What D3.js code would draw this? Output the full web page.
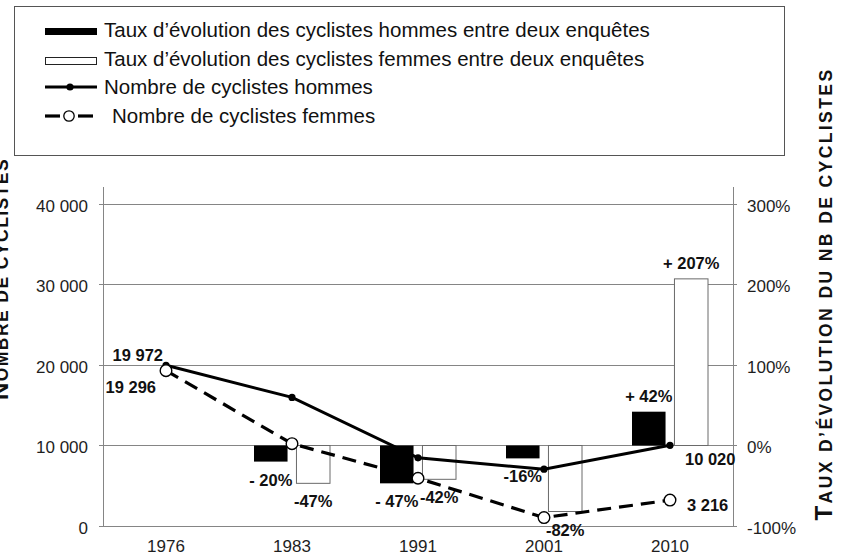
<!DOCTYPE html>
<html>
<head>
<meta charset="utf-8">
<script src="https://cdn.jsdelivr.net/npm/d3@7"></script>
<style>
  body { margin: 0; background: #fff; }
  svg { display: block; }
</style>
</head>
<body>
<svg id="chart" width="852" height="558"></svg>
<script>
// ---- data ----
const years = ["1976", "1983", "1991", "2001", "2010"];
const menCount = [19972, 15978, 8468, 7056, 10020];
const womenCount = [19296, 10227, 5932, 1048, 3216];
const menRate = [null, -20, -47, -16, 42];
const womenRate = [null, -47, -42, -82, 207];
const menRateLabels = ["", "- 20%", "- 47%", "-16%", "+ 42%"];
const womenRateLabels = ["", "-47%", "-42%", "-82%", "+ 207%"];
const menCountLabels = ["19 972", "", "", "", "10 020"];
const womenCountLabels = ["19 296", "", "", "", "3 216"];
const countTicks = [0, 10000, 20000, 30000, 40000];
const countTickLabels = ["0", "10 000", "20 000", "30 000", "40 000"];
const rateTicks = [-100, 0, 100, 200, 300];
const rateTickLabels = ["-100%", "0%", "100%", "200%", "300%"];
const legendLabels = [
  "Taux d\u2019évolution des cyclistes hommes entre deux enquêtes",
  "Taux d\u2019évolution des cyclistes femmes entre deux enquêtes",
  "Nombre de cyclistes hommes",
  "Nombre de cyclistes femmes"
];
const leftTitle = "Nombre de cyclistes";
const rightTitle = "Taux d\u2019évolution du nb de cyclistes";

// ---- layout ----
const FONT = "'Liberation Sans', Arial, Helvetica, sans-serif";
const plot = { left: 103, right: 733, top: 204, bottom: 526, axisTop: 187 };
const GRID = "#858585";
const TICK_SIZE = 17;

const svg = d3.select("#chart").style("font-family", FONT);

const x = d3.scaleBand().domain(years).range([plot.left, plot.right]).padding(0);
const sub = d3.scaleBand().domain(["m", "f"]).range([-38, 38]).paddingInner(0.21);
const yCount = d3.scaleLinear().domain([0, 40000]).range([plot.bottom, plot.top]);
const yRate = d3.scaleLinear().domain([-100, 300]).range([plot.bottom, plot.top]);
const cx = d => x(d) + x.bandwidth() / 2;

// gridlines (include tick stubs outside both axes)
svg.append("g").selectAll("line").data(countTicks).join("line")
  .attr("x1", plot.left - 4).attr("x2", plot.right + 4)
  .attr("y1", d => yCount(d)).attr("y2", d => yCount(d))
  .attr("stroke", GRID).attr("stroke-width", 1).attr("shape-rendering", "crispEdges");

// left axis
const leftAxis = d3.axisLeft(yCount).tickValues(countTicks)
  .tickFormat((d, i) => countTickLabels[i]).tickSize(0).tickPadding(15);
const gl = svg.append("g").attr("transform", `translate(${plot.left},0)`).call(leftAxis);
gl.select(".domain").remove();
gl.selectAll("text").attr("font-size", TICK_SIZE).attr("font-family", FONT).attr("fill", "#1e1e1e").attr("dy", "0.42em");
svg.append("line").attr("x1", plot.left).attr("x2", plot.left)
  .attr("y1", plot.axisTop).attr("y2", plot.bottom)
  .attr("stroke", GRID).attr("shape-rendering", "crispEdges");

// right axis
const rightAxis = d3.axisRight(yRate).tickValues(rateTicks)
  .tickFormat((d, i) => rateTickLabels[i]).tickSize(0).tickPadding(14);
const gr = svg.append("g").attr("transform", `translate(${plot.right},0)`).call(rightAxis);
gr.select(".domain").remove();
gr.selectAll("text").attr("font-size", TICK_SIZE).attr("font-family", FONT).attr("fill", "#1e1e1e").attr("dy", "0.42em");
svg.append("line").attr("x1", plot.right).attr("x2", plot.right)
  .attr("y1", plot.axisTop).attr("y2", plot.bottom)
  .attr("stroke", GRID).attr("shape-rendering", "crispEdges");

// x axis labels
const bottomAxis = d3.axisBottom(x).tickSize(0).tickPadding(14);
const gb = svg.append("g").attr("transform", `translate(0,${plot.bottom})`).call(bottomAxis);
gb.select(".domain").remove();
gb.selectAll("text").attr("font-size", TICK_SIZE).attr("font-family", FONT).attr("fill", "#1e1e1e");

// ---- rate bars ----
const rateRows = years.map((yr, i) => ({ yr, i, men: menRate[i], women: womenRate[i] })).filter(r => r.men !== null);
const zero = yRate(0);

const barG = svg.append("g");
barG.selectAll("rect.men").data(rateRows).join("rect").attr("class", "men")
  .attr("x", d => cx(d.yr) + sub("m")).attr("width", sub.bandwidth())
  .attr("y", d => Math.min(yRate(d.men), zero)).attr("height", d => Math.abs(yRate(d.men) - zero))
  .attr("fill", "#000");
barG.selectAll("rect.women").data(rateRows).join("rect").attr("class", "women")
  .attr("x", d => cx(d.yr) + sub("f")).attr("width", sub.bandwidth())
  .attr("y", d => Math.min(yRate(d.women), zero)).attr("height", d => Math.abs(yRate(d.women) - zero))
  .attr("fill", "#fff").attr("stroke", "#6a6a6a").attr("stroke-width", 1);

// ---- count lines ----
const line = d3.line().x((d, i) => cx(years[i])).y(d => yCount(d));
svg.append("path").datum(womenCount).attr("d", line)
  .attr("fill", "none").attr("stroke", "#000").attr("stroke-width", 3.2)
  .attr("stroke-dasharray", "14,8");
svg.append("path").datum(menCount).attr("d", line)
  .attr("fill", "none").attr("stroke", "#000").attr("stroke-width", 3);

svg.append("g").selectAll("circle").data(menCount).join("circle")
  .attr("cx", (d, i) => cx(years[i])).attr("cy", d => yCount(d)).attr("r", 3.6).attr("fill", "#000");
svg.append("g").selectAll("circle").data(womenCount).join("circle")
  .attr("cx", (d, i) => cx(years[i])).attr("cy", d => yCount(d)).attr("r", 5.8)
  .attr("fill", "#fff").attr("stroke", "#000").attr("stroke-width", 1.4);

// ---- value labels ----
const labelG = svg.append("g").attr("font-size", 16.5).attr("font-weight", "bold").attr("fill", "#111");
function rateLabel(key, labels) {
  labelG.selectAll(null).data(rateRows).join("text")
    .attr("x", d => cx(d.yr) + sub(key) + sub.bandwidth() / 2)
    .attr("y", d => {
      const v = key === "m" ? d.men : d.women;
      return v >= 0 ? yRate(v) - 10 : yRate(v) + 24;
    })
    .attr("text-anchor", "middle")
    .text(d => labels[d.i]);
}
rateLabel("m", menRateLabels);
rateLabel("f", womenRateLabels);

// offsets of the count labels relative to their point
const countLabelOffsets = {
  men: [{ dx: -3, dy: -4, anchor: "end" }, null, null, null, { dx: 15, dy: 20, anchor: "start" }],
  women: [{ dx: -10, dy: 22, anchor: "end" }, null, null, null, { dx: 17, dy: 11, anchor: "start" }]
};
function countLabel(values, labels, offs) {
  const rows = values.map((v, i) => ({ v, i })).filter(d => labels[d.i] !== "");
  labelG.selectAll(null).data(rows).join("text")
    .attr("x", d => cx(years[d.i]) + offs[d.i].dx)
    .attr("y", d => yCount(d.v) + offs[d.i].dy)
    .attr("text-anchor", d => offs[d.i].anchor)
    .text(d => labels[d.i]);
}
countLabel(menCount, menCountLabels, countLabelOffsets.men);
countLabel(womenCount, womenCountLabels, countLabelOffsets.women);

// ---- axis titles (small caps, bold) ----
function smallCapsTitle(str, tx, ty, length) {
  const t = svg.append("text")
    .attr("transform", `translate(${tx},${ty}) rotate(-90)`)
    .attr("text-anchor", "middle").attr("font-weight", "bold").attr("fill", "#111");
  t.append("tspan").attr("font-size", 24).text(str[0].toUpperCase());
  t.append("tspan").attr("font-size", 17.5).text(str.slice(1).toUpperCase());
  const n = str.length;
  const natural = t.node().getComputedTextLength();
  t.attr("letter-spacing", ((length - natural) / n).toFixed(2) + "px");
  return t;
}
smallCapsTitle(rightTitle, 832, 294, 453);
smallCapsTitle(leftTitle, 8, 279, 242);

// ---- legend ----
const lg = svg.append("g");
lg.append("rect").attr("x", 14.5).attr("y", 6.5).attr("width", 770).attr("height", 149)
  .attr("fill", "#fff").attr("stroke", "#555").attr("stroke-width", 1);
const rowY = [37, 66, 94, 123];
lg.append("rect").attr("x", 45).attr("y", 28).attr("width", 52).attr("height", 7).attr("fill", "#000");
lg.append("rect").attr("x", 45.5).attr("y", 57.5).attr("width", 51).attr("height", 7)
  .attr("fill", "#fff").attr("stroke", "#222").attr("stroke-width", 1);
lg.append("line").attr("x1", 45).attr("x2", 97).attr("y1", 87).attr("y2", 87).attr("stroke", "#000").attr("stroke-width", 3);
lg.append("circle").attr("cx", 70).attr("cy", 87).attr("r", 3.6).attr("fill", "#000");
lg.append("line").attr("x1", 45).attr("x2", 60).attr("y1", 116).attr("y2", 116).attr("stroke", "#000").attr("stroke-width", 3.2);
lg.append("line").attr("x1", 78).attr("x2", 93).attr("y1", 116).attr("y2", 116).attr("stroke", "#000").attr("stroke-width", 3.2);
lg.append("circle").attr("cx", 69).attr("cy", 116).attr("r", 5.2).attr("fill", "#fff").attr("stroke", "#000").attr("stroke-width", 1.3);
const legendX = [104, 104, 104, 112];
lg.selectAll("text").data(legendLabels).join("text")
  .attr("x", (d, i) => legendX[i]).attr("y", (d, i) => rowY[i])
  .attr("font-size", 20.5).attr("fill", "#111").text(d => d);
</script>
</body>
</html>
